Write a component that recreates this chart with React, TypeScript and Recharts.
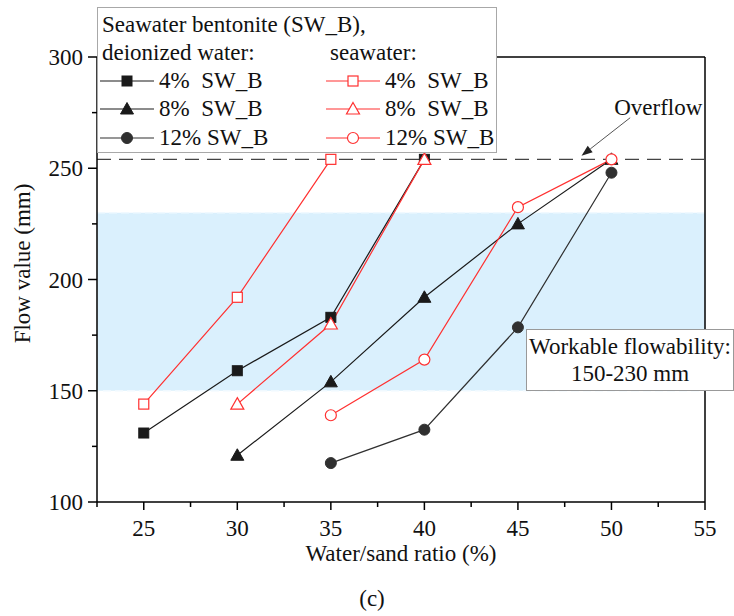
import React from 'react';
import {
  LineChart,
  Line,
  XAxis,
  YAxis,
  ReferenceArea,
  ReferenceLine,
  Legend
} from 'recharts';

const FONT = '"Liberation Serif", "Times New Roman", serif';
const FS = 23;
const BLACK = '#1a1a1a';
const DARK = '#303030';
const RED = '#ff3030';

// ticks
const xTicks = [22.5, 25, 27.5, 30, 32.5, 35, 37.5, 40, 42.5, 45, 47.5, 50, 52.5, 55];
const xMajor = [25, 30, 35, 40, 45, 50, 55];
const yTicks = [100, 125, 150, 175, 200, 225, 250, 275, 300];
const yMajor = [100, 150, 200, 250, 300];

// deionized water
const diRatio4 = [25, 30, 35, 40];
const di4 = [131, 159, 183, 254];
const diRatio8 = [30, 35, 40, 45, 50];
const di8 = [121, 154, 192, 225, 254];
const diRatio12 = [35, 40, 45, 50];
const di12 = [117.5, 132.5, 178.5, 248];

// seawater
const swRatio4 = [25, 30, 35];
const sw4 = [144, 192, 254];
const swRatio8 = [30, 35, 40];
const sw8 = [144, 180, 254];
const swRatio12 = [35, 40, 45, 50];
const sw12 = [139, 164, 232.5, 254];

const overflowLevel = 254;
const workableRange = [150, 230];
const overflowArrow = [{ x: 51, y: 272.7 }, { x: 48.4, y: 255.6 }];

type Shape = 'square' | 'triangle' | 'circle';

const series = [
  { key: 'di4', name: '4%  SW_B', xs: diRatio4, ys: di4, color: BLACK, shape: 'square' as Shape, filled: true },
  { key: 'di8', name: '8%  SW_B', xs: diRatio8, ys: di8, color: BLACK, shape: 'triangle' as Shape, filled: true },
  { key: 'di12', name: '12% SW_B', xs: diRatio12, ys: di12, color: DARK, shape: 'circle' as Shape, filled: true },
  { key: 'sw4', name: '4%  SW_B', xs: swRatio4, ys: sw4, color: RED, shape: 'square' as Shape, filled: false },
  { key: 'sw8', name: '8%  SW_B', xs: swRatio8, ys: sw8, color: RED, shape: 'triangle' as Shape, filled: false },
  { key: 'sw12', name: '12% SW_B', xs: swRatio12, ys: sw12, color: RED, shape: 'circle' as Shape, filled: false }
];

const Marker = ({ shape, cx, cy, color, filled }: any) => {
  const fill = filled ? color : '#fff';
  const sw = filled ? 1 : 1.2;
  if (shape === 'square') {
    return <rect x={cx - 5} y={cy - 5} width={10} height={10} fill={fill} stroke={color} strokeWidth={sw} />;
  }
  if (shape === 'triangle') {
    return (
      <polygon
        points={`${cx},${cy - 6.5} ${cx + 6.5},${cy + 5} ${cx - 6.5},${cy + 5}`}
        fill={fill}
        stroke={color}
        strokeWidth={sw}
      />
    );
  }
  return <circle cx={cx} cy={cy} r={5.5} fill={fill} stroke={color} strokeWidth={sw} />;
};

const XTick = ({ x, y, payload }: any) => {
  const major = xMajor.includes(payload.value);
  return (
    <g>
      <line x1={x} x2={x} y1={y} y2={y + (major ? 8 : 5)} stroke="#000" strokeWidth={1.5} />
      {major && (
        <text x={x} y={y + 34} textAnchor="middle" fontFamily={FONT} fontSize={FS} fill="#111">
          {payload.value}
        </text>
      )}
    </g>
  );
};

const YTick = ({ x, y, payload }: any) => {
  const major = yMajor.includes(payload.value);
  return (
    <g>
      <line x1={x - (major ? 9 : 5)} x2={x} y1={y} y2={y} stroke="#000" strokeWidth={1.5} />
      {major && (
        <text x={x - 14} y={y + 8} textAnchor="end" fontFamily={FONT} fontSize={FS} fill="#111">
          {payload.value}
        </text>
      )}
    </g>
  );
};

const LegendIcon = ({ s }: any) => (
  <svg width={54} height={16} style={{ position: 'absolute', left: 0, top: 0 }}>
    <line x1={0} x2={54} y1={8} y2={8} stroke={s.color} strokeWidth={1.2} />
    <Marker shape={s.shape} cx={27} cy={8} color={s.color} filled={s.filled} />
  </svg>
);

const LegendBox = () => {
  const rowTops = [80, 108, 137];
  const txt: React.CSSProperties = {
    position: 'absolute',
    fontFamily: FONT,
    fontSize: FS,
    lineHeight: '24px',
    color: '#111',
    whiteSpace: 'pre'
  };
  return (
    <div
      style={{
        position: 'relative',
        width: 400,
        height: 146,
        boxSizing: 'border-box',
        border: '1.5px solid #a8a8a8',
        background: '#fff'
      }}
    >
      <div style={{ ...txt, left: 4, top: 5 }}>Seawater bentonite (SW_B),</div>
      <div style={{ ...txt, left: 4, top: 33 }}>deionized water:</div>
      <div style={{ ...txt, left: 232, top: 33 }}>seawater:</div>
      {series.map((s, i) => {
        const col = i < 3 ? 0 : 1;
        const row = i % 3;
        const left = col === 0 ? 2 : 228;
        return (
          <div key={s.key} style={{ position: 'absolute', left, top: rowTops[row] - 7 - 8, width: 170, height: 16 }}>
            <LegendIcon s={s} />
            <div style={{ ...txt, left: 59, top: -4 }}>{s.name}</div>
          </div>
        );
      })}
    </div>
  );
};

const ArrowShape = (props: any) => {
  const { x1, y1, x2, y2 } = props;
  const ang = Math.atan2(y2 - y1, x2 - x1);
  const len = 11;
  const w = 4;
  const bx = x2 - len * Math.cos(ang);
  const by = y2 - len * Math.sin(ang);
  const px = -Math.sin(ang) * w;
  const py = Math.cos(ang) * w;
  return (
    <g>
      <line x1={x1} y1={y1} x2={bx} y2={by} stroke="#555" strokeWidth={1} />
      <polygon points={`${x2},${y2} ${bx + px},${by + py} ${bx - px},${by - py}`} fill="#222" />
      <text x={x1 - 16} y={y1 - 3} fontFamily={FONT} fontSize={FS} fill="#111">
        Overflow
      </text>
    </g>
  );
};

const App = () => {
  return (
    <div style={{ position: 'absolute', left: 0, top: 0, width: 734, height: 616, background: '#fff' }}>
      <LineChart width={734} height={616} margin={{ top: 57, right: 29, bottom: 0, left: 0 }}>
        <XAxis
          dataKey="x"
          type="number"
          domain={[22.5, 55]}
          ticks={xTicks}
          interval={0}
          allowDataOverflow
          height={114}
          tickSize={0}
          tickMargin={0}
          tickLine={false}
          tick={<XTick />}
          axisLine={{ stroke: '#000', strokeWidth: 1.5 }}
          label={(p: any) => {
            const vb = p.viewBox;
            return (
              <text
                x={vb.x + vb.width / 2}
                y={vb.y + 59}
                textAnchor="middle"
                fontFamily={FONT}
                fontSize={FS}
                fill="#111"
              >
                Water/sand ratio (%)
              </text>
            );
          }}
        />
        <YAxis
          type="number"
          domain={[100, 300]}
          ticks={yTicks}
          interval={0}
          allowDataOverflow
          width={97}
          tickSize={0}
          tickMargin={0}
          tickLine={false}
          tick={<YTick />}
          axisLine={{ stroke: '#000', strokeWidth: 1.5 }}
          label={(p: any) => {
            const vb = p.viewBox;
            const cx = 30;
            const cy = vb.y + vb.height / 2 - 16;
            return (
              <text
                x={cx}
                y={cy}
                textAnchor="middle"
                transform={`rotate(-90 ${cx} ${cy})`}
                fontFamily={FONT}
                fontSize={FS}
                fill="#111"
              >
                Flow value (mm)
              </text>
            );
          }}
        />
        <ReferenceArea
          y1={workableRange[0]}
          y2={workableRange[1]}
          fill="#daf0fd"
          fillOpacity={1}
          stroke="#f0f9ff"
          strokeDasharray="8 4"
          strokeWidth={1.5}
        />
        <ReferenceLine y={300} stroke="#000" strokeWidth={1.5} />
        <ReferenceLine x={55} stroke="#000" strokeWidth={1.5} />
        <ReferenceLine y={overflowLevel} stroke="#444" strokeWidth={1.2} strokeDasharray="14 8" />
        <ReferenceLine segment={overflowArrow} ifOverflow="visible" shape={<ArrowShape />} />
        {series.map((s) => (
          <Line
            key={s.key}
            data={s.xs.map((x, i) => ({ x, v: s.ys[i] }))}
            dataKey="v"
            name={s.key}
            type="linear"
            stroke={s.color}
            strokeWidth={1.2}
            legendType="none"
            isAnimationActive={false}
            dot={(p: any) => (
              <Marker key={`${s.key}-${p.index}`} shape={s.shape} cx={p.cx} cy={p.cy} color={s.color} filled={s.filled} />
            )}
            activeDot={false}
          />
        ))}
        <Legend
          layout="vertical"
          align="center"
          verticalAlign="middle"
          wrapperStyle={{ position: 'absolute', left: 97, top: 7, width: 400, height: 146 }}
          content={() => <LegendBox />}
        />
      </LineChart>
      <div
        style={{
          position: 'absolute',
          left: 526,
          top: 329,
          width: 208,
          height: 62,
          boxSizing: 'border-box',
          border: '1px solid #999',
          background: '#fff',
          fontFamily: FONT,
          fontSize: FS,
          lineHeight: '27px',
          color: '#111',
          textAlign: 'center',
          paddingTop: 3
        }}
      >
        Workable flowability:
        <br />
        150-230 mm
      </div>
      <div
        style={{
          position: 'absolute',
          left: 322,
          top: 585,
          width: 100,
          textAlign: 'center',
          fontFamily: FONT,
          fontSize: FS,
          lineHeight: '28px',
          color: '#111'
        }}
      >
        (c)
      </div>
    </div>
  );
};

export default App;
